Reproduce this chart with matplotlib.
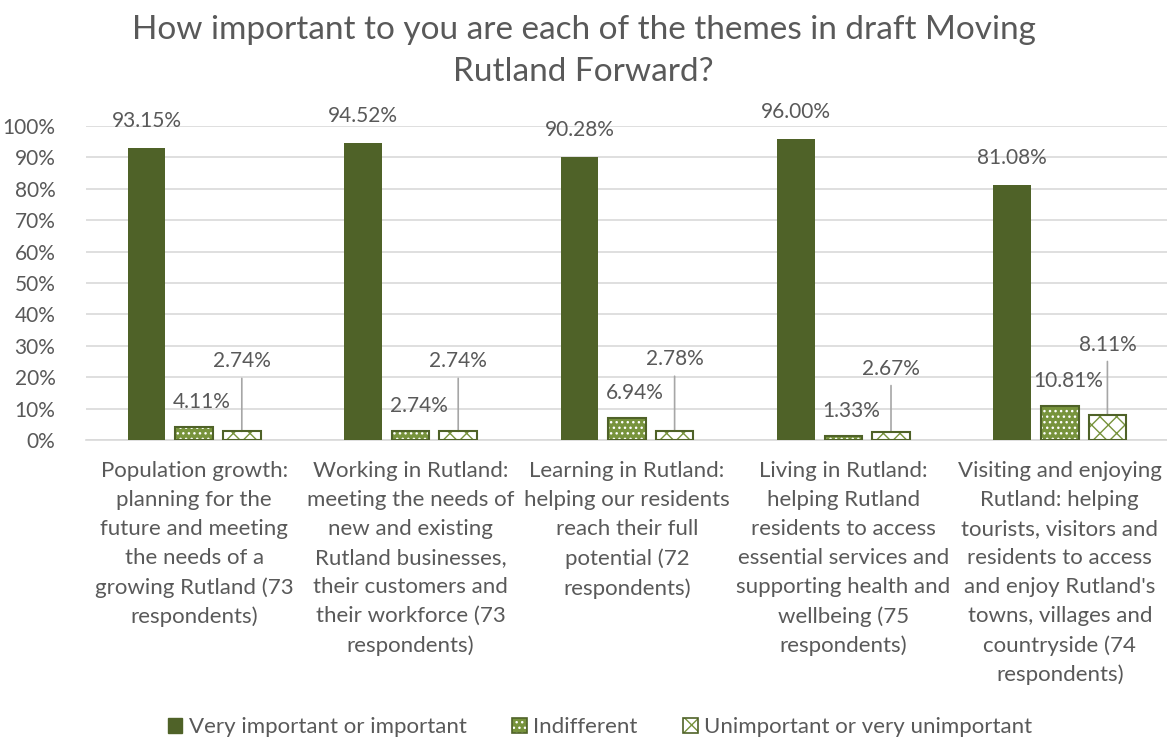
import matplotlib.pyplot as plt
from matplotlib.patches import Patch
from matplotlib.legend_handler import HandlerTuple
import numpy as np

# data
categories = [
    'Population growth:\nplanning for the\nfuture and meeting\nthe needs of a\ngrowing Rutland (73\nrespondents)',
    'Working in Rutland:\nmeeting the needs of\nnew and existing\nRutland businesses,\ntheir customers and\ntheir workforce (73\nrespondents)',
    'Learning in Rutland:\nhelping our residents\nreach their full\npotential (72\nrespondents)',
    'Living in Rutland:\nhelping Rutland\nresidents to access\nessential services and\nsupporting health and\nwellbeing (75\nrespondents)',
    "Visiting and enjoying\nRutland: helping\ntourists, visitors and\nresidents to access\nand enjoy Rutland's\ntowns, villages and\ncountryside (74\nrespondents)",
]
important = [93.15, 94.52, 90.28, 96.00, 81.08]
indifferent = [4.11, 2.74, 6.94, 1.33, 10.81]
unimportant = [2.74, 2.74, 2.78, 2.67, 8.11]
series_names = ['Very important or important', 'Indifferent', 'Unimportant or very unimportant']
title = 'How important to you are each of the themes in draft Moving\nRutland Forward?'

# styling
plt.rcParams['font.family'] = ['Lato', 'DejaVu Sans']
text_col = '#595959'
dark = '#4F6228'
mid = '#77933C'
grid_col = '#D9D9D9'
fs_num = 15
fs_txt = 16

fig = plt.figure(figsize=(11.67, 7.42), dpi=100)
ax = fig.add_axes([86 / 1167, 1 - 440 / 742, 1082 / 1167, 314 / 742])

x = np.arange(len(categories))
w = 0.173
off = 0.22

ax.bar(x - off, important, w, color=dark, zorder=3)
ax.bar(x, indifferent, w, color=mid, edgecolor='white', hatch='...', linewidth=0, zorder=3)
ax.bar(x, indifferent, w, fill=False, edgecolor=dark, linewidth=1.5, zorder=4)
ax.bar(x + off, unimportant, w, color='white', edgecolor=mid, hatch='xx', linewidth=0, zorder=3)
ax.bar(x + off, unimportant, w, fill=False, edgecolor=dark, linewidth=1.5, zorder=4)

# labels (offsets in pixels)
for i in range(len(categories)):
    ax.annotate(f'{important[i]:.2f}%', xy=(x[i] - off, important[i]), xytext=(0, 27),
                textcoords='offset pixels', ha='center', va='center', fontsize=fs_num, color=text_col)
    ax.annotate(f'{indifferent[i]:.2f}%', xy=(x[i], indifferent[i]), xytext=(8, 25),
                textcoords='offset pixels', ha='center', va='center', fontsize=fs_num, color=text_col)

lead_dy = [70, 70, 72, 63, 70]
for i in range(len(categories)):
    ax.annotate(f'{unimportant[i]:.2f}%', xy=(x[i] + off, unimportant[i]), xytext=(0, lead_dy[i]),
                textcoords='offset pixels', ha='center', va='center', fontsize=fs_num, color=text_col,
                arrowprops=dict(arrowstyle='-', color='#A6A6A6', lw=1.2, shrinkA=3, shrinkB=0,
                                relpos=(0.5, 0)))

ax.set_xlim(-0.5, len(categories) - 0.5)
ax.set_ylim(0, 100)
ax.set_yticks(np.arange(0, 101, 10))
ax.set_yticklabels([f'{v}%' for v in range(0, 101, 10)])
ax.set_xticks(x)
ax.set_xticklabels(categories, linespacing=1.56, fontsize=fs_txt)
ax.tick_params(axis='both', length=0, colors=text_col)
ax.tick_params(axis='y', pad=22, labelsize=fs_num)
ax.tick_params(axis='x', pad=15)
ax.grid(axis='y', color=grid_col, linewidth=1.2, zorder=0)
for s in ['top', 'right', 'left']:
    ax.spines[s].set_visible(False)
ax.spines['bottom'].set_color(grid_col)
ax.spines['bottom'].set_linewidth(1.2)
ax.set_axisbelow(True)

fig.text(0.5, 1 - 15 / 742, title, ha='center', va='top', fontsize=24, color=text_col, linespacing=1.5)

h1 = Patch(facecolor=dark, edgecolor=dark)
h2 = (Patch(facecolor=mid, edgecolor='white', hatch='...', linewidth=0),
      Patch(fill=False, edgecolor=dark, linewidth=1.2))
h3 = (Patch(facecolor='white', edgecolor=mid, hatch='xx', linewidth=0),
      Patch(fill=False, edgecolor=dark, linewidth=1.2))
fig.legend([h1, h2, h3], series_names, loc='center', bbox_to_anchor=(600 / 1167, 1 - 727 / 742), ncol=3,
           frameon=False, fontsize=fs_txt, labelcolor=text_col, handlelength=0.65, handleheight=0.65,
           handletextpad=0.3, columnspacing=2.05, handler_map={tuple: HandlerTuple(ndivide=1)})

fig.savefig('out.png', dpi=100)
